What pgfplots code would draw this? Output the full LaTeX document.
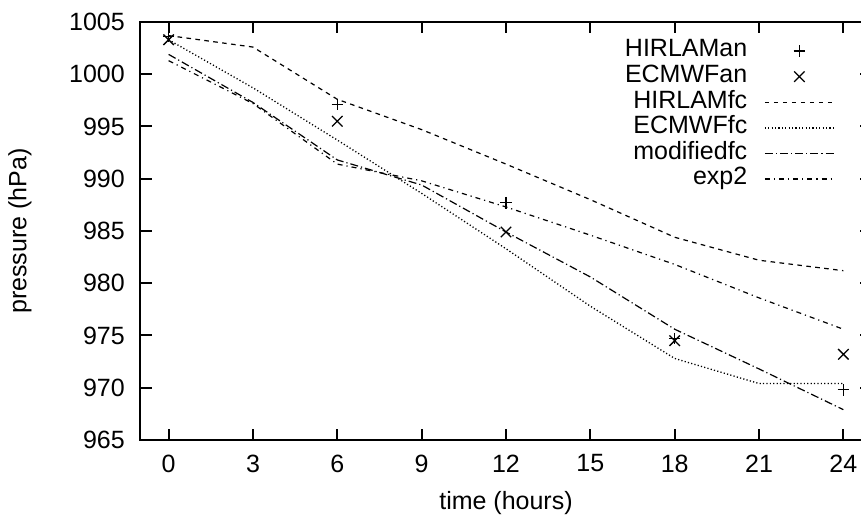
\documentclass[border=0pt]{standalone}
\usepackage{fontspec}
\setmainfont{Liberation Sans}
\usepackage{pgfplots}
\pgfplotsset{compat=1.18}

% pressure traces, values
\pgfplotstableread{
t   HIRLAMfc ECMWFfc modifiedfc exp2
0   1003.7   1003.3  1001.9     1001.3
3   1002.6   998.7   997.3      997.2
6   997.6    993.7   991.8      991.4
9   994.7    988.6   989.4      989.8
12  991.4    983.3   984.9      987.3
15  988.0    977.8   980.6      984.6
18  984.4    972.8   975.6      981.8
21  982.2    970.4   971.8      978.6
24  981.2    970.4   967.9      975.6
}\fcdata

\begin{document}
\fontsize{12.5bp}{15bp}\selectfont
\begin{tikzpicture}
  \begin{axis}[
      scale only axis,
      width=365.5bp, height=209bp,
      xmin=-1, xmax=25, ymin=965, ymax=1005,
      xtick={0,3,...,24},
      ytick={965,970,...,1005},
      tick align=inside,
      major tick length=5.5bp,
      every tick/.style={black, line width=1bp},
      axis line style={line width=1bp},
      /pgf/number format/assume math mode=true,
      /pgf/number format/set thousands separator={},
      yticklabel style={xshift=-3.5bp},
      xticklabel style={yshift=-3bp},
      xlabel={time (hours)},
      ylabel={pressure (hPa)},
      xlabel style={at={(axis description cs:0.5,-0.152)}, anchor=center},
      ylabel style={at={(axis description cs:-0.165,0.5)}, anchor=center},
      legend plot pos=right,
      legend cell align=right,
      legend style={at={(rel axis cs:0.95,0.962)}, anchor=north east,
        draw=none, fill=none, inner sep=0pt, row sep=0pt, column sep=8.5bp,
        nodes={inner sep=0pt, text height=9.3bp, text depth=3.5bp}},
      legend image code/.code={
        \draw[mark repeat=2,mark phase=2,#1]
          plot coordinates {(0bp,0bp) (17.25bp,0bp) (34.5bp,0bp)};},
      every axis plot/.append style={black, line width=0.6bp},
    ]
    \addplot[only marks, mark=+, mark size=2.9bp, mark options={line width=0.65bp}]
      coordinates {(0,1003.6) (6,997.1) (12,987.7) (18,974.7) (24,969.8)};
    \addplot[only marks, mark=x, mark size=3.7bp, mark options={line width=0.65bp}]
      coordinates {(0,1003.3) (6,995.5) (12,984.9) (18,974.5) (24,973.2)};
    \addplot[dash pattern=on 2.3bp off 2.2bp] table[x=t, y=HIRLAMfc] {\fcdata};
    \addplot[line width=0.65bp, dash pattern=on 0.6bp off 1.1bp] table[x=t, y=ECMWFfc] {\fcdata};
    \addplot[dash pattern=on 4bp off 1.5bp on 0.6bp off 1.5bp] table[x=t, y=modifiedfc] {\fcdata};
    \addplot[dash pattern=on 2.5bp off 2bp on 0.6bp off 2bp] table[x=t, y=exp2] {\fcdata};
    \legend{HIRLAMan, ECMWFan, HIRLAMfc, ECMWFfc, modifiedfc, exp2}
  \end{axis}
  % the reference is cut off just left of the right frame
  \pgfresetboundingbox
  \useasboundingbox ([xshift=-70.25bp,yshift=-37.5bp]current axis.south west)
    rectangle ([xshift=360.25bp,yshift=11bp]current axis.north west);
\end{tikzpicture}
\end{document}
